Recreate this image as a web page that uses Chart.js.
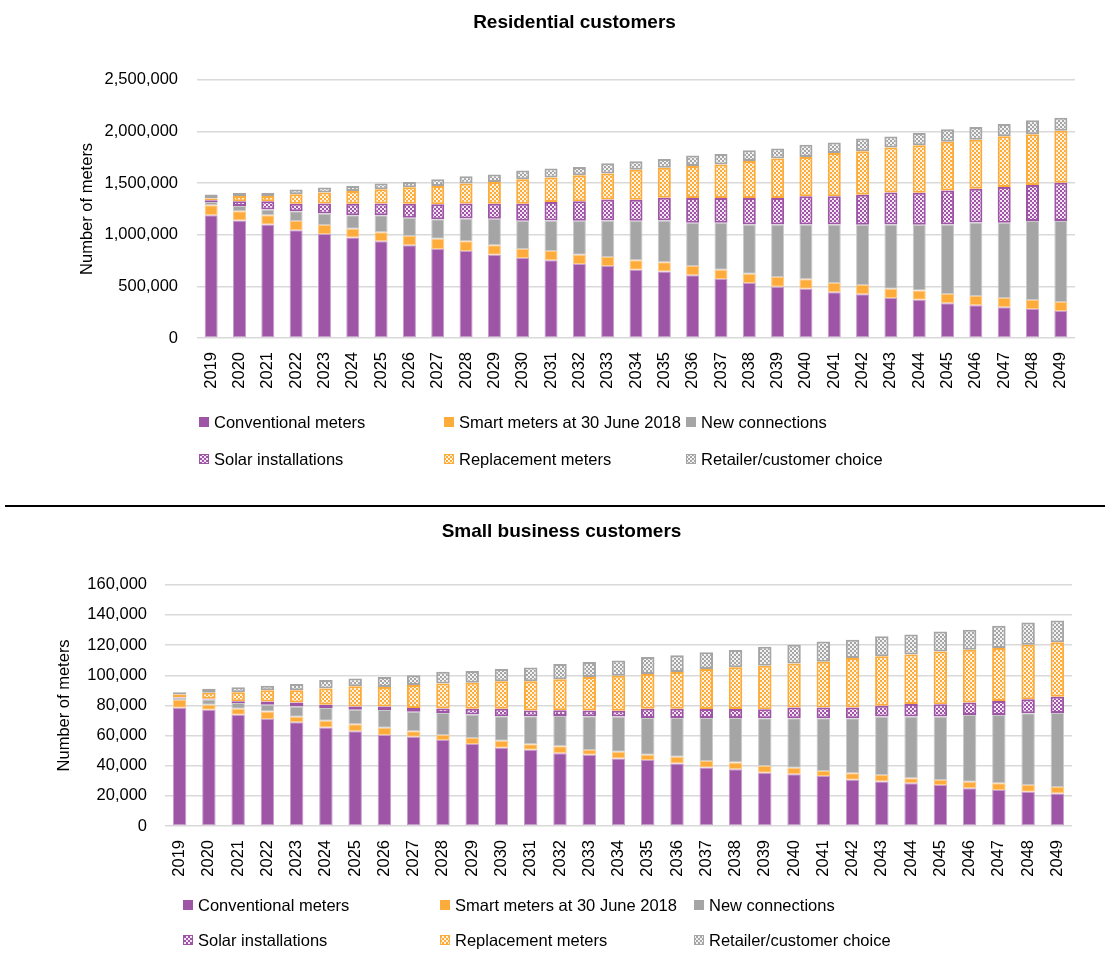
<!DOCTYPE html>
<html>
<head>
<meta charset="utf-8">
<title>Meter projections</title>
<script src="https://cdn.jsdelivr.net/npm/chart.js@4.4.1/dist/chart.umd.min.js"></script>
<style>
    body { margin: 0; background: #fff; }
    #wrap { position: relative; width: 1112px; height: 956px; }
    #resChart { position: absolute; left: 0; top: 0; }
    #busChart { position: absolute; left: 0; top: 506px; }
    #divider { position: absolute; left: 5px; top: 505px; width: 1100px; height: 2px; background: #000; }
</style>
</head>
<body>
<div id="wrap">
    <canvas id="resChart" width="1112" height="500"></canvas>
    <div id="divider"></div>
    <canvas id="busChart" width="1112" height="450"></canvas>
</div>
<script>
const years = ['2019', '2020', '2021', '2022', '2023', '2024', '2025', '2026', '2027', '2028',
    '2029', '2030', '2031', '2032', '2033', '2034', '2035', '2036', '2037', '2038', '2039',
    '2040', '2041', '2042', '2043', '2044', '2045', '2046', '2047', '2048', '2049'];

const seriesNames = ['Conventional meters', 'Smart meters at 30 June 2018', 'New connections',
    'Solar installations', 'Replacement meters', 'Retailer/customer choice'];

// residential customers
const resConventional = [1189000, 1137000, 1098000, 1043000, 1008000, 972000, 937000, 898000, 862000, 843000,
    807000, 775000, 753000, 717000, 698000, 662000, 643000, 607000, 572000, 533000, 497000,
    478000, 443000, 423000, 388000, 371000, 336000, 317000, 297000, 281000, 262000];
const resSmart = [97000, 90000, 90000, 90000, 87000, 87000, 87000, 90000, 100000, 94000,
    90000, 87000, 90000, 90000, 87000, 90000, 90000, 90000, 90000, 90000, 94000,
    90000, 90000, 90000, 90000, 90000, 90000, 90000, 90000, 87000, 87000];
const resNew = [32000, 52000, 55000, 94000, 110000, 129000, 165000, 177000, 187000, 220000,
    258000, 274000, 294000, 329000, 352000, 384000, 404000, 420000, 455000, 475000, 507000,
    530000, 565000, 584000, 620000, 636000, 672000, 711000, 730000, 765000, 785000];
const resSolar = [16000, 45000, 81000, 74000, 97000, 113000, 113000, 136000, 145000, 145000,
    145000, 165000, 181000, 187000, 203000, 203000, 220000, 239000, 239000, 258000, 258000,
    274000, 274000, 291000, 310000, 310000, 329000, 326000, 346000, 349000, 368000];
const resReplacement = [16000, 52000, 52000, 90000, 107000, 123000, 139000, 158000, 177000, 194000,
    210000, 236000, 236000, 252000, 252000, 291000, 291000, 310000, 323000, 358000, 381000,
    381000, 420000, 420000, 436000, 459000, 472000, 475000, 491000, 491000, 504000];
const resRetailer = [39000, 29000, 29000, 48000, 48000, 48000, 55000, 52000, 65000, 71000,
    74000, 84000, 87000, 81000, 100000, 81000, 84000, 100000, 103000, 103000, 97000,
    119000, 100000, 123000, 107000, 119000, 123000, 123000, 119000, 136000, 126000];
const resTicks = [0, 500000, 1000000, 1500000, 2000000, 2500000];

// small business customers
const busConventional = [78500, 77100, 73800, 71000, 68800, 65300, 62800, 60300, 59200, 57000,
    54400, 51900, 50600, 48200, 47300, 44800, 43700, 41500, 38800, 37700, 35400,
    34300, 33200, 30600, 29500, 28400, 27200, 25000, 23900, 22800, 21500];
const busSmart = [5000, 3400, 4000, 4900, 3600, 4500, 4700, 4900, 3600, 3400,
    4000, 4700, 3600, 4700, 3100, 4400, 3600, 4400, 4400, 4400, 4400,
    4400, 3300, 4400, 4400, 3300, 3300, 4400, 4400, 4400, 4400];
const busNew = [1500, 3400, 3800, 4500, 6900, 8500, 9600, 11800, 13000, 14500,
    15500, 16200, 18600, 20000, 22400, 23500, 24400, 25800, 28400, 29500, 31700,
    32800, 35000, 36500, 38800, 41000, 42100, 44300, 45400, 47600, 49000];
const busSolar = [400, 500, 1100, 2200, 2700, 2200, 2200, 2200, 2500, 3100,
    3800, 4900, 3800, 3800, 3800, 3800, 6000, 6000, 6000, 6000, 6000,
    7100, 7100, 7100, 7100, 8200, 8200, 8200, 9300, 9300, 10900];
const busReplacement = [1800, 4000, 6000, 7400, 8000, 10700, 13400, 13000, 15200, 16500,
    17300, 18400, 19500, 20600, 22200, 23100, 23100, 24400, 26600, 27700, 28800,
    29200, 30300, 32800, 32800, 32800, 35000, 35000, 35000, 36100, 36100];
const busRetailer = [1500, 2700, 3400, 3100, 4200, 5600, 5100, 6700, 6500, 7800,
    7800, 8000, 9100, 10200, 10000, 10200, 11300, 11100, 11100, 11500, 12600,
    12400, 13500, 12200, 13300, 13300, 13300, 13300, 14800, 14800, 14400];
const busTicks = [0, 20000, 40000, 60000, 80000, 100000, 120000, 140000, 160000];

const PURPLE = '#9e55a6';
const ORANGE = '#fdab3a';
const GREY = '#a5a5a5';
const FONT = '"Liberation Sans", Arial, sans-serif';

function makePattern(color) {
    const tile = document.createElement('canvas');
    tile.width = 4;
    tile.height = 4;
    const t = tile.getContext('2d');
    t.fillStyle = color;
    t.fillRect(0, 0, 4, 4);
    t.fillStyle = 'rgba(255, 255, 255, 0.85)';
    t.fillRect(0, 0, 2, 2);
    t.fillRect(2, 2, 2, 2);
    return t.createPattern(tile, 'repeat');
}

// legend laid out in a fixed 3 x 2 grid like the original
const gridLegend = {
    id: 'gridLegend',
    afterDraw(chart, args, opts) {
        const ctx = chart.ctx;
        ctx.save();
        ctx.font = '16.5px ' + FONT;
        ctx.textBaseline = 'middle';
        chart.data.datasets.forEach((ds, i) => {
            const x = opts.cols[i % 3];
            const y = opts.rows[Math.floor(i / 3)];
            ctx.fillStyle = ds.backgroundColor;
            ctx.fillRect(x, y - 5, 10, 10);
            if (ds.patterned) {
                ctx.strokeStyle = ds.borderColor;
                ctx.lineWidth = 1;
                ctx.strokeRect(x + 0.5, y - 4.5, 9, 9);
            }
            ctx.fillStyle = '#000';
            ctx.fillText(ds.label, x + 15, y + 1);
        });
        ctx.restore();
    }
};

function makeDatasets(series) {
    const solid = [PURPLE, ORANGE, GREY];
    const solidBorder = ['#c59ccb', '#fecb86', '#c9c9c9'];
    return series.map((values, i) => {
        const base = solid[i % 3];
        const patterned = i >= 3;
        return {
            label: seriesNames[i],
            data: values,
            backgroundColor: patterned ? makePattern(base) : base,
            borderColor: patterned ? base : solidBorder[i],
            borderWidth: patterned ? 2 : 1,
            borderSkipped: false,
            patterned: patterned,
            barPercentage: 0.46,
            categoryPercentage: 1
        };
    });
}

function createChart(id, title, series, ticks, lay) {
    const config = {
        type: 'bar',
        data: {
            labels: years,
            datasets: makeDatasets(series)
        },
        options: {
            responsive: false,
            animation: false,
            layout: {
                padding: { left: lay.padLeft, right: lay.padRight, top: 0, bottom: lay.padBottom }
            },
            plugins: {
                legend: { display: false },
                tooltip: { enabled: false },
                title: {
                    display: true,
                    text: title,
                    color: '#000',
                    font: { family: FONT, size: 19, weight: 'bold' },
                    padding: { top: lay.titleTop, bottom: lay.titleBottom }
                },
                gridLegend: { cols: lay.legendCols, rows: lay.legendRows }
            },
            scales: {
                x: {
                    stacked: true,
                    grid: { display: false },
                    border: { display: false },
                    ticks: {
                        color: '#000',
                        font: { family: FONT, size: 16.5 },
                        minRotation: 90,
                        maxRotation: 90,
                        autoSkip: false,
                        padding: 6
                    },
                    afterFit: (axis) => { axis.height = 62; }
                },
                y: {
                    stacked: true,
                    min: ticks[0],
                    max: ticks[ticks.length - 1],
                    afterBuildTicks: (axis) => { axis.ticks = ticks.map(v => ({ value: v })); },
                    grid: { color: '#d9d9d9', lineWidth: 1.5, drawTicks: false },
                    border: { display: false },
                    ticks: {
                        color: '#000',
                        font: { family: FONT, size: 16.5 },
                        padding: lay.tickPad,
                        callback: (v) => v.toLocaleString('en-US')
                    },
                    title: {
                        display: true,
                        text: 'Number of meters',
                        color: '#000',
                        font: { family: FONT, size: 16.5 }
                    },
                    afterFit: (axis) => { axis.width = lay.axisWidth; }
                }
            }
        },
        plugins: [gridLegend]
    };
    const ctx = document.getElementById(id).getContext('2d');
    new Chart(ctx, config);
}

createChart('resChart', 'Residential customers',
    [resConventional, resSmart, resNew, resSolar, resReplacement, resRetailer], resTicks, {
        padLeft: 74, axisWidth: 123, tickPad: 19, padRight: 37, padBottom: 100,
        titleTop: 11, titleBottom: 46,
        legendCols: [199, 444, 686], legendRows: [422, 459]
    });

createChart('busChart', 'Small business customers',
    [busConventional, busSmart, busNew, busSolar, busReplacement, busRetailer], busTicks, {
        padLeft: 51, axisWidth: 114, tickPad: 18, padRight: 40, padBottom: 68,
        titleTop: 14, titleBottom: 42,
        legendCols: [183, 440, 694], legendRows: [399, 434]
    });
</script>
</body>
</html>
